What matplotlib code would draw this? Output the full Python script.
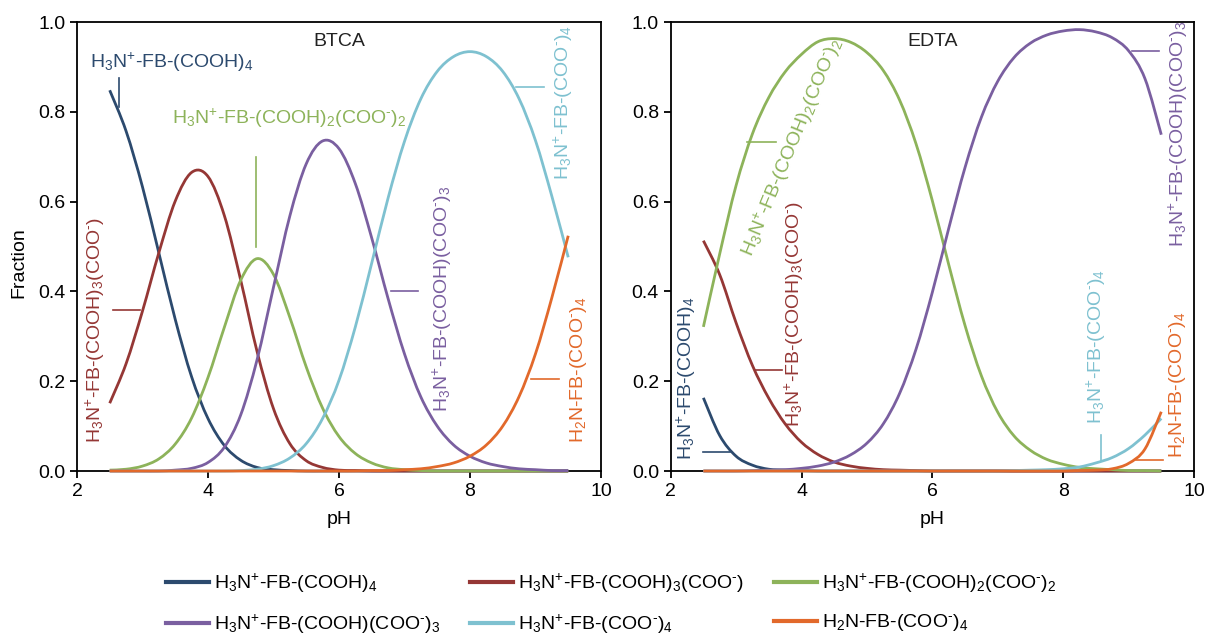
import matplotlib
matplotlib.use("Agg")
import matplotlib.pyplot as plt
import numpy as np
from matplotlib.lines import Line2D
from matplotlib.patches import PathPatch
from matplotlib.path import Path

plt.rcParams["font.family"] = ["Liberation Sans", "DejaVu Sans"]
plt.rcParams["mathtext.fontset"] = "custom"
plt.rcParams["mathtext.rm"] = "Liberation Sans"
plt.rcParams["mathtext.it"] = "Liberation Sans:italic"
plt.rcParams["mathtext.default"] = "regular"

# pH grid (2.5 .. 9.5)
PH = [2.5, 2.75, 3.0, 3.25, 3.5, 3.75, 4.0, 4.25, 4.5, 4.75, 5.0, 5.25, 5.5, 5.75,
      6.0, 6.25, 6.5, 6.75, 7.0, 7.25, 7.5, 7.75, 8.0, 8.25, 8.5, 8.75, 9.0, 9.25, 9.5]

# BTCA species fractions
BTCA_COOH4 = [0.848, 0.757, 0.633, 0.486, 0.338, 0.210, 0.117, 0.057, 0.024, 0.008, 0.003, 0.001, 0.0, 0.0,
              0.0, 0.0, 0.0, 0.0, 0.0, 0.0, 0.0, 0.0, 0.0, 0.0, 0.0, 0.0, 0.0, 0.0, 0.0]
BTCA_COOH3 = [0.151, 0.239, 0.356, 0.486, 0.601, 0.665, 0.656, 0.569, 0.425, 0.266, 0.139, 0.061, 0.023, 0.008,
              0.002, 0.001, 0.0, 0.0, 0.0, 0.0, 0.0, 0.0, 0.0, 0.0, 0.0, 0.0, 0.0, 0.0, 0.0]
BTCA_COOH2 = [0.002, 0.004, 0.011, 0.027, 0.060, 0.118, 0.208, 0.320, 0.425, 0.473, 0.438, 0.342, 0.232, 0.140,
              0.077, 0.039, 0.018, 0.007, 0.003, 0.001, 0.0, 0.0, 0.0, 0.0, 0.0, 0.0, 0.0, 0.0, 0.0]
BTCA_COOH1 = [0.0, 0.0, 0.0, 0.0, 0.002, 0.006, 0.019, 0.053, 0.125, 0.248, 0.409, 0.568, 0.684, 0.735,
              0.718, 0.640, 0.519, 0.384, 0.261, 0.165, 0.100, 0.058, 0.033, 0.018, 0.010, 0.005, 0.003, 0.001, 0.001]
BTCA_COO4 = [0.0, 0.0, 0.0, 0.0, 0.0, 0.0, 0.0, 0.0, 0.001, 0.004, 0.012, 0.029, 0.061, 0.117,
             0.202, 0.321, 0.463, 0.608, 0.734, 0.829, 0.890, 0.923, 0.934, 0.923, 0.890, 0.829, 0.736, 0.612, 0.476]
BTCA_NH2 = [0.0, 0.0, 0.0, 0.0, 0.0, 0.0, 0.0, 0.0, 0.0, 0.0, 0.0, 0.0, 0.0, 0.0,
            0.0, 0.0, 0.001, 0.001, 0.003, 0.005, 0.010, 0.018, 0.033, 0.058, 0.100, 0.166, 0.261, 0.386, 0.524]

# EDTA species fractions
EDTA_COOH4 = [0.163, 0.079, 0.033, 0.013, 0.004, 0.002, 0.001, 0.0, 0.0, 0.0, 0.0, 0.0, 0.0, 0.0,
              0.0, 0.0, 0.0, 0.0, 0.0, 0.0, 0.0, 0.0, 0.0, 0.0, 0.0, 0.0, 0.0, 0.0, 0.0]
EDTA_COOH3 = [0.513, 0.437, 0.330, 0.235, 0.162, 0.105, 0.064, 0.037, 0.020, 0.011, 0.006, 0.003, 0.002, 0.001,
              0.0, 0.0, 0.0, 0.0, 0.0, 0.0, 0.0, 0.0, 0.0, 0.0, 0.0, 0.0, 0.0, 0.0, 0.0]
EDTA_COOH2 = [0.321, 0.484, 0.636, 0.751, 0.832, 0.889, 0.928, 0.956, 0.963, 0.955, 0.932, 0.892, 0.826, 0.729,
              0.602, 0.460, 0.324, 0.212, 0.131, 0.078, 0.046, 0.026, 0.015, 0.008, 0.005, 0.003, 0.001, 0.001, 0.0]
EDTA_COOH1 = [0.0, 0.0, 0.0, 0.001, 0.002, 0.003, 0.006, 0.011, 0.020, 0.036, 0.062, 0.105, 0.173, 0.271,
              0.398, 0.540, 0.676, 0.788, 0.868, 0.921, 0.953, 0.971, 0.980, 0.983, 0.978, 0.965, 0.936, 0.874, 0.749]
EDTA_COO4 = [0.0, 0.0, 0.0, 0.0, 0.0, 0.0, 0.0, 0.0, 0.0, 0.0, 0.0, 0.0, 0.0, 0.0,
             0.0, 0.0, 0.0, 0.0, 0.0, 0.001, 0.002, 0.003, 0.005, 0.009, 0.018, 0.030, 0.050, 0.080, 0.117]
EDTA_NH2 = [0.0, 0.0, 0.0, 0.0, 0.0, 0.0, 0.0, 0.0, 0.0, 0.0, 0.0, 0.0, 0.0, 0.0,
            0.0, 0.0, 0.0, 0.0, 0.0, 0.0, 0.0, 0.0, 0.0, 0.001, 0.002, 0.005, 0.017, 0.049, 0.132]

SUP_P = r"$^{+}$"
SUP_M = r"$^{\text{-}}$"
NAMES = [
    r"H$_3$N" + SUP_P + r"-FB-(COOH)$_4$",
    r"H$_3$N" + SUP_P + r"-FB-(COOH)$_3$(COO" + SUP_M + ")",
    r"H$_3$N" + SUP_P + r"-FB-(COOH)$_2$(COO" + SUP_M + r")$_2$",
    r"H$_3$N" + SUP_P + r"-FB-(COOH)(COO" + SUP_M + r")$_3$",
    r"H$_3$N" + SUP_P + r"-FB-(COO" + SUP_M + r")$_4$",
    r"H$_2$N-FB-(COO" + SUP_M + r")$_4$",
]
COLORS = ["#2C4A6E", "#953735", "#8DB35A", "#7A5FA0", "#7EC1D0", "#E2692B"]

# label placement: (species, x, y, rotation, leader x0, y0, x1, y1)
BTCA_LABELS = [
    (0, 2.20, 0.898, 0, 2.643, 0.811, 2.643, 0.875),
    (1, 2.36, 0.062, 90, 2.556, 0.359, 2.96, 0.359),
    (2, 3.45, 0.773, 0, 4.74, 0.50, 4.74, 0.70),
    (3, 7.66, 0.132, 90, 6.79, 0.40, 7.20, 0.40),
    (4, 9.50, 0.648, 90, 8.70, 0.855, 9.13, 0.855),
    (5, 9.73, 0.062, 90, 8.93, 0.205, 9.36, 0.205),
]
EDTA_LABELS = [
    (0, 2.32, 0.025, 90, 2.50, 0.043, 2.905, 0.043),
    (1, 3.98, 0.099, 90, 3.29, 0.225, 3.70, 0.225),
    (2, 3.24, 0.475, 67.5, 3.16, 0.733, 3.61, 0.733),
    (3, 9.84, 0.500, 90, 9.06, 0.936, 9.46, 0.936),
    (4, 8.59, 0.105, 90, 8.58, 0.0245, 8.58, 0.08),
    (5, 9.82, 0.029, 90, 9.11, 0.0245, 9.52, 0.0245),
]


def smooth_path(x, y):
    # Excel-style smoothed line: Catmull-Rom segments as cubic Beziers
    x = np.asarray(x, float)
    y = np.asarray(y, float)
    xp = np.r_[x[0], x, x[-1]]
    yp = np.r_[y[0], y, y[-1]]
    verts = [(x[0], y[0])]
    codes = [Path.MOVETO]
    for i in range(len(x) - 1):
        c1 = (xp[i + 1] + (xp[i + 2] - xp[i]) / 6, yp[i + 1] + (yp[i + 2] - yp[i]) / 6)
        c2 = (xp[i + 2] - (xp[i + 3] - xp[i + 1]) / 6, yp[i + 2] - (yp[i + 3] - yp[i + 1]) / 6)
        verts += [c1, c2, (x[i + 1], y[i + 1])]
        codes += [Path.CURVE4] * 3
    return Path(verts, codes)


def panel(ax, series, title, labels):
    for s, c in zip(series, COLORS):
        ax.add_patch(PathPatch(smooth_path(PH, s), fill=False, edgecolor=c, lw=2.0,
                               clip_on=False, zorder=3, joinstyle="round"))
    for i, tx, ty, rot, x0, y0, x1, y1 in labels:
        ax.plot([x0, x1], [y0, y1], color=COLORS[i], lw=1.2, zorder=3)
        ax.text(tx, ty, NAMES[i], color=COLORS[i], fontsize=14, rotation=rot,
                rotation_mode="anchor", ha="left", va="baseline")
    ax.text(6.0, 0.947, title, fontsize=14, ha="center", va="baseline", color="#222222")
    ax.set_xlim(2, 10)
    ax.set_ylim(0, 1)
    ax.set_xticks([2, 4, 6, 8, 10])
    ax.set_yticks([0, 0.2, 0.4, 0.6, 0.8, 1.0])
    ax.yaxis.set_major_formatter(matplotlib.ticker.FormatStrFormatter("%.1f"))
    ax.tick_params(direction="out", length=5, width=1.3, labelsize=14, colors="black")
    for sp in ax.spines.values():
        sp.set_linewidth(1.3)
    ax.set_xlabel("pH", fontsize=14)
    ax.xaxis.set_label_coords(0.5, -0.09)


def main():
    fig = plt.figure(figsize=(12.08, 6.36), dpi=100)
    ax1 = fig.add_axes([0.0637, 0.2594, 0.4338, 0.706])
    ax2 = fig.add_axes([0.5552, 0.2594, 0.4332, 0.706])

    panel(ax1, [BTCA_COOH4, BTCA_COOH3, BTCA_COOH2, BTCA_COOH1, BTCA_COO4, BTCA_NH2], "BTCA", BTCA_LABELS)
    panel(ax2, [EDTA_COOH4, EDTA_COOH3, EDTA_COOH2, EDTA_COOH1, EDTA_COO4, EDTA_NH2], "EDTA", EDTA_LABELS)
    ax1.set_ylabel("Fraction", fontsize=14)
    ax1.yaxis.set_label_coords(-0.095, 0.465)

    handles = [Line2D([], [], color=c, lw=3) for c in COLORS]
    order = [0, 3, 1, 4, 2, 5]
    fig.legend([handles[i] for i in order], [NAMES[i] for i in order], loc="center",
               bbox_to_anchor=(0.506, 0.051), ncol=3, frameon=False, fontsize=14,
               handlelength=2.2, handletextpad=0.3, columnspacing=1.5, labelspacing=0.9)

    fig.savefig("out.png", dpi=100)
    plt.close(fig)


if __name__ == "__main__":
    main()
